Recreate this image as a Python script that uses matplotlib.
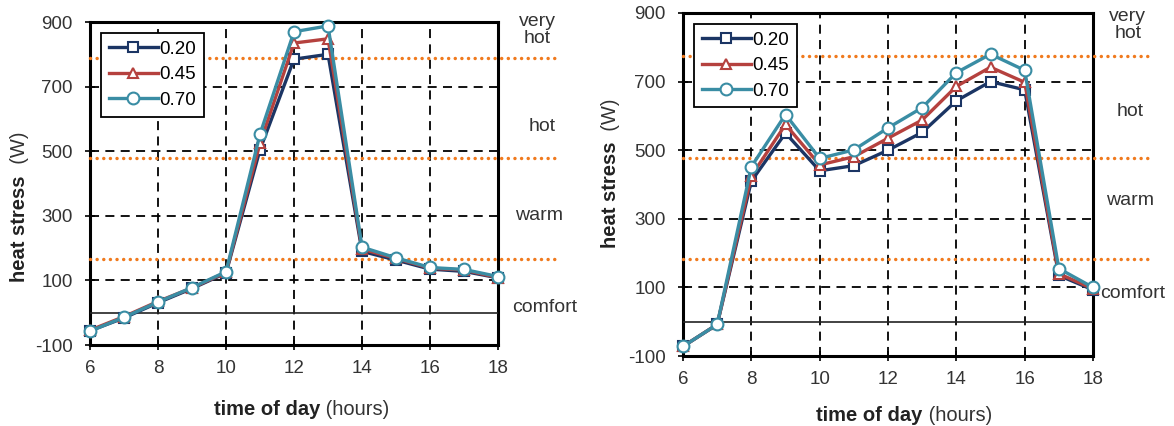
import matplotlib
matplotlib.use('Agg')
import matplotlib.pyplot as plt

plt.rcParams['font.family'] = ['Liberation Sans', 'DejaVu Sans']
plt.rcParams['axes.unicode_minus'] = False

hours = [6, 7, 8, 9, 10, 11, 12, 13, 14, 15, 16, 17, 18]
labels = ['0.20', '0.45', '0.70']

# left panel
left_020 = [-56, -16, 31, 75, 123, 505, 785, 800, 190, 163, 135, 128, 108]
left_045 = [-54, -12, 35, 77, 125, 525, 835, 848, 197, 168, 138, 132, 109]
left_070 = [-57, -14, 33, 78, 127, 553, 870, 888, 203, 170, 140, 134, 112]
left_bands = [788, 478, 165]

# right panel
right_020 = [-72, -8, 410, 550, 440, 455, 500, 552, 644, 700, 676, 135, 93]
right_045 = [-72, -8, 425, 575, 457, 481, 535, 588, 686, 742, 698, 140, 96]
right_070 = [-72, -8, 452, 604, 476, 501, 565, 624, 726, 780, 733, 155, 100]
right_bands = [776, 477, 182]

zones = ['very\nhot', 'hot', 'warm', 'comfort']
left_zone_y = [875, 576, 300, 17]
left_zone_x = [1.096, 1.108, 1.10, 1.115]
right_zone_y = [865, 613, 352, 83]
right_zone_x = [1.085, 1.09, 1.09, 1.098]

colors = ['#1B3564', '#B5413E', '#3A8DA4']
markers = ['s', '^', 'o']
msizes = [7.5, 6.5, 8.5]

fig = plt.figure(figsize=(11.74, 4.26), dpi=100)
ax1 = fig.add_axes([0.0767, 0.1901, 0.3475, 0.7582])
ax2 = fig.add_axes([0.5818, 0.1643, 0.3492, 0.8052])


def draw(ax, series, bands, zone_y, zone_x):
    for s, lab, c, m, ms in zip(series, labels, colors, markers, msizes):
        ax.plot(hours, s, color=c, lw=2.4, marker=m, ms=ms, mfc='white',
                mec=c, mew=1.5, label=lab, zorder=4, clip_on=False)
    tr = ax.get_yaxis_transform()
    for b in bands:
        ax.plot([0, 1.145], [b, b], transform=tr, color='#F07A1E', lw=2.5,
                ls=(0, (0.01, 1.9)), dash_capstyle='round', clip_on=False, zorder=3)
    ax.plot([0, 1], [0, 0], transform=tr, color='#222222', lw=1.2, zorder=3)
    for z, zy, zx in zip(zones, zone_y, zone_x):
        ax.text(zx, zy, z, transform=tr, ha='center', va='center',
                fontsize=14, color='#333333', linespacing=1.0)
    ax.set_xlim(6, 18)
    ax.set_ylim(-100, 900)
    ax.set_xticks(range(6, 19, 2))
    ax.set_yticks(range(-100, 901, 200))
    ax.grid(True, color='black', ls=(0, (5, 3.5)), lw=1.3)
    ax.set_axisbelow(True)
    for sp in ax.spines.values():
        sp.set_linewidth(2.2)
    ax.tick_params(direction='inout', length=7, width=1.2, labelsize=13.5,
                   labelcolor='#333333', pad=7)
    ax.tick_params(axis='y', pad=9)
    leg = ax.legend(loc='upper left', fontsize=13.5, frameon=True, fancybox=False,
                    edgecolor='black', framealpha=1, handlelength=2.6,
                    handletextpad=0.1, labelspacing=0.45, borderaxespad=0.6,
                    borderpad=0.4)
    leg.get_frame().set_linewidth(1.3)
    leg.set_zorder(10)


draw(ax1, [left_020, left_045, left_070], left_bands, left_zone_y, left_zone_x)
draw(ax2, [right_020, right_045, right_070], right_bands, right_zone_y, right_zone_x)

# axis titles: bold part + normal part
for xs, ys in [(0.2726, 0.0376), (0.786, 0.0235)]:
    fig.text(xs, ys, 'time of day', ha='right', va='center', fontsize=14.5,
             fontweight='bold', color='#222222')
    fig.text(xs, ys, ' (hours)', ha='left', va='center', fontsize=14.5,
             color='#333333')

for xs, ys in [(0.017, 0.589), (0.5196, 0.667)]:
    fig.text(xs, ys, 'heat stress', ha='right', va='center', rotation=90,
             rotation_mode='anchor', fontsize=14.5, fontweight='bold', color='#222222')
    fig.text(xs, ys, '  (W)', ha='left', va='center', rotation=90,
             rotation_mode='anchor', fontsize=14.5, color='#333333')

fig.savefig('out.png', dpi=100)
